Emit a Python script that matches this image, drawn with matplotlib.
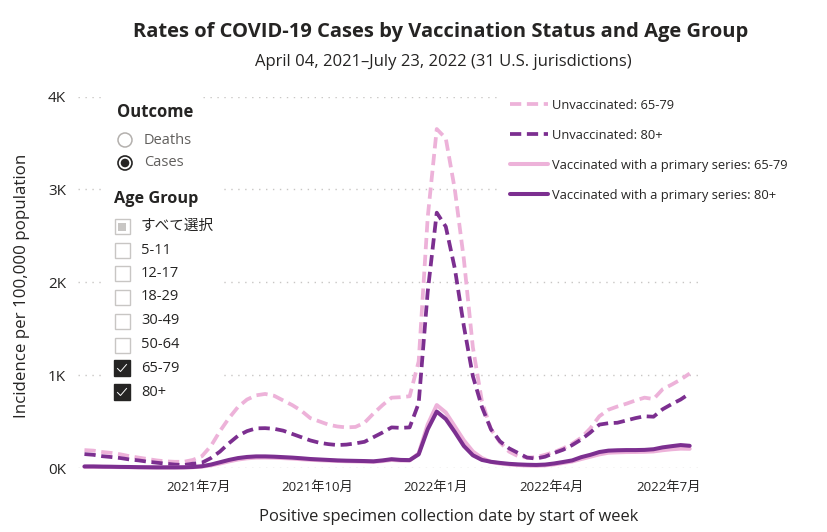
import matplotlib
matplotlib.use('Agg')
import matplotlib.pyplot as plt
from matplotlib.patches import Rectangle, Circle
import pandas as pd

plt.rcParams['font.family'] = ['Open Sans', 'Noto Sans CJK JP', 'DejaVu Sans']

# weekly data, start of week
weeks = pd.date_range('2021-04-04', periods=68, freq='7D')

unvax_6579 = [196, 190, 175, 165, 150, 130, 115, 100, 85, 75,
              70, 70, 90, 130, 240, 400, 540, 660, 740, 785,
              800, 780, 730, 680, 620, 540, 505, 470, 450, 440,
              445, 490, 590, 680, 760, 765, 775, 1150, 2700, 3650,
              3550, 3000, 2250, 1300, 720, 420, 280, 180, 130, 115,
              120, 145, 175, 215, 265, 330, 430, 560, 630, 665,
              695, 730, 760, 745, 850, 900, 955, 1020]
unvax_80 = [153, 145, 130, 121, 110, 95, 85, 71, 60, 50,
            40, 35, 50, 60, 110, 180, 270, 350, 400, 430,
            432, 425, 405, 370, 335, 300, 275, 260, 250, 255,
            268, 285, 335, 385, 440, 435, 440, 700, 1900, 2750,
            2600, 2150, 1530, 990, 660, 420, 290, 215, 165, 115,
            105, 125, 165, 200, 250, 310, 385, 470, 485, 490,
            515, 540, 560, 555, 635, 690, 740, 805]
vax_6579 = [16, 16, 15, 14, 13, 12, 11, 10, 9, 9,
            9, 10, 12, 18, 32, 52, 75, 95, 108, 115,
            116, 114, 110, 105, 98, 92, 87, 83, 79, 76,
            74, 72, 70, 78, 90, 84, 84, 160, 470, 680,
            600, 450, 300, 180, 110, 68, 52, 42, 35, 30,
            28, 32, 42, 58, 74, 100, 125, 150, 168, 172,
            175, 176, 178, 182, 195, 205, 212, 210]
vax_80 = [20, 20, 18, 17, 15, 14, 12, 11, 10, 10,
          10, 11, 14, 22, 40, 65, 90, 110, 122, 128,
          128, 125, 120, 115, 108, 100, 95, 90, 85, 82,
          80, 78, 75, 85, 98, 90, 88, 150, 420, 610,
          530, 390, 240, 140, 90, 70, 58, 48, 42, 38,
          36, 40, 52, 68, 85, 120, 145, 175, 190, 194,
          196, 196, 198, 205, 225, 238, 250, 242]

series_labels = ['Unvaccinated: 65-79', 'Unvaccinated: 80+',
                 'Vaccinated with a primary series: 65-79',
                 'Vaccinated with a primary series: 80+']
series_values = [unvax_6579, unvax_80, vax_6579, vax_80]
series_colors = ['#EDB2D9', '#7C2F90', '#EDB2D9', '#7C2F90']
series_dashed = [True, True, False, False]

tick_dates = ['2021-07-01', '2021-10-01', '2022-01-01', '2022-04-01', '2022-07-01']
tick_labels = ['2021年7月', '2021年10月', '2022年1月', '2022年4月', '2022年7月']
y_ticks = [0, 1000, 2000, 3000, 4000]
y_tick_labels = ['0K', '1K', '2K', '3K', '4K']

age_groups = ['すべて選択', '5-11', '12-17', '18-29', '30-49', '50-64', '65-79', '80+']
age_checked = [False, False, False, False, False, False, True, True]

W, H = 827, 532
fig = plt.figure(figsize=(W / 100, H / 100), dpi=100, facecolor='white')
ax = fig.add_axes([78 / W, 63.7 / H, 622 / W, 371.8 / H])

for vals, lab, col, dashed in zip(series_values, series_labels, series_colors, series_dashed):
    if dashed:
        ax.plot(weeks, vals, color=col, lw=2.7, dashes=(3, 1.5), dash_capstyle='butt',
                label=lab, clip_on=False)
    else:
        ax.plot(weeks, vals, color=col, lw=2.9, solid_capstyle='round',
                label=lab, clip_on=False)

ax.set_xlim(pd.Timestamp('2021-03-30'), pd.Timestamp('2022-07-25'))
ax.set_ylim(0, 4000)
ax.set_xticks(pd.to_datetime(tick_dates))
ax.set_xticklabels(tick_labels)
ax.set_yticks(y_ticks)
ax.set_yticklabels(y_tick_labels)
ax.tick_params(axis='both', length=0, colors='#252423')
ax.tick_params(axis='x', pad=9, labelsize=9.5)
ax.tick_params(axis='y', pad=8.6, labelsize=11)
for s in ax.spines.values():
    s.set_visible(False)
ax.yaxis.grid(True, linestyle=(0, (1, 4)), color='#C8C6C4', lw=1)
ax.set_axisbelow(True)

leg = ax.legend(loc='upper left', bbox_to_anchor=(498 / W, 1 - 87 / H),
                bbox_transform=fig.transFigure, frameon=True, fancybox=False,
                edgecolor='none', facecolor='white', framealpha=1, fontsize=9.3,
                handlelength=3.0, handletextpad=0.3, labelspacing=1.32,
                borderpad=0.9, borderaxespad=0)
for t in leg.get_texts():
    t.set_color('#252423')

# overlay in pixel coordinates for titles and slicers
ov = fig.add_axes([0, 0, 1, 1], zorder=5)
ov.set_xlim(0, W)
ov.set_ylim(H, 0)
ov.axis('off')
ov.patch.set_alpha(0)

ov.text(441, 32, 'Rates of COVID-19 Cases by Vaccination Status and Age Group',
        fontsize=14.5, weight='bold', ha='center', va='center', color='#252423')
ov.text(443, 62, 'April 04, 2021\u2013July 23, 2022 (31 U.S. jurisdictions)',
        fontsize=12, ha='center', va='center', color='#252423')
ov.text(449, 517, 'Positive specimen collection date by start of week',
        fontsize=11.9, ha='center', va='center', color='#252423')
ov.text(22, 286, 'Incidence per 100,000 population', fontsize=12.2, rotation=90,
        ha='center', va='center', color='#252423')

# slicer backgrounds
ov.add_patch(Rectangle((105, 86), 95, 92, facecolor='white', edgecolor='none'))
ov.add_patch(Rectangle((104, 180), 119, 222, facecolor='white', edgecolor='none'))

# Outcome slicer
ov.text(117, 112, 'Outcome', fontsize=12, weight='bold', ha='left', va='center', color='#252423')
ov.add_patch(Circle((125, 140), 7, facecolor='white', edgecolor='#B3B0AD', lw=1.1))
ov.text(144, 140, 'Deaths', fontsize=10.5, ha='left', va='center', color='#605E5C')
ov.add_patch(Circle((125, 163), 7, facecolor='white', edgecolor='#252423', lw=1.2))
ov.add_patch(Circle((125, 163), 4.3, facecolor='#252423', edgecolor='none'))
ov.text(144, 163, 'Cases', fontsize=10.5, ha='left', va='center', color='#605E5C')

# Age Group slicer
ov.text(114, 199, 'Age Group', fontsize=11.7, weight='bold', ha='left', va='center', color='#252423')
box_y = [226.7, 250, 273.5, 297, 321, 345, 368, 392]
for i, (name, on) in enumerate(zip(age_groups, age_checked)):
    yc = box_y[i]
    if on:
        ov.add_patch(Rectangle((114, yc - 8), 16, 16, facecolor='#252423', edgecolor='#252423', lw=1))
        ov.plot([117.5, 120.5, 126.5], [yc + 0.5, yc + 3.5, yc - 3.5], color='white', lw=0.7)
    else:
        ov.add_patch(Rectangle((114.5, yc - 7.5), 15, 15, facecolor='white', edgecolor='#C8C6C4', lw=1))
        if i == 0:
            ov.add_patch(Rectangle((118, yc - 4), 8, 8, facecolor='#C8C6C4', edgecolor='none'))
    ov.text(141, yc, name, fontsize=10.5, ha='left', va='center', color='#252423')

plt.savefig('out.png', dpi=100, facecolor='white')
plt.close()
